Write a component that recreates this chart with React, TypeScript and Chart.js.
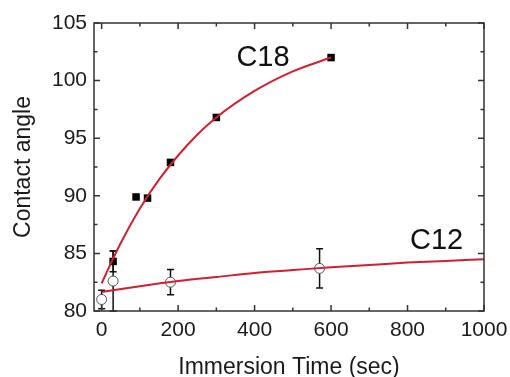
import React, { useEffect, useRef } from 'react';
import { Chart, registerables } from 'chart.js';

Chart.register(...registerables);

// ---- data ----
const c18Time = [30, 90, 120, 180, 300, 600];
const c18Angle = [84.3, 89.9, 89.8, 92.9, 96.8, 102.0];
const c18Err = [0.9, 0, 0, 0, 0, 0];

const c12Time = [0, 30, 180, 570];
const c12Angle = [81.0, 82.6, 82.5, 83.7];
const c12Err = [0.8, 2.6, 1.1, 1.7];

const c18FitTime = [0, 25, 50, 100, 150, 200, 250, 300, 400, 500, 600];
const c18FitAngle = [82.4, 84.2, 85.9, 88.9, 91.4, 93.5, 95.3, 96.8, 99.1, 100.8, 102.0];

const c12FitTime = [0, 100, 200, 300, 400, 500, 600, 700, 800, 900, 1000];
const c12FitAngle = [81.65, 82.15, 82.6, 82.95, 83.3, 83.55, 83.8, 84.0, 84.2, 84.35, 84.5];

const xTickValues = [0, 200, 400, 600, 800, 1000];
const yTickValues = [80, 85, 90, 95, 100, 105];

const seriesLabels = ['C18', 'C12'];
const labelAnchorsX = [422, 876];
const labelAnchorsY = [102.0, 86.1];

const xTitle = 'Immersion Time (sec)';
const yTitle = 'Contact angle';

const FONT = '"Liberation Sans", Arial, Helvetica, sans-serif';
const TEXT = '#1a1a1a';
const RED = '#d11f2f';

const framePlugin = {
  id: 'frameTicks',
  beforeDatasetsDraw(chart: any) {
    const { ctx, scales } = chart;
    const x = scales.x;
    const y = scales.y;
    ctx.save();
    ctx.strokeStyle = '#111';
    ctx.lineWidth = 1.5;
    const drawErr = (ts: number[], vs: number[], es: number[]) => {
      ts.forEach((t, i) => {
        const e = es[i];
        if (!e) return;
        const px = x.getPixelForValue(t);
        const lo = Math.max(vs[i] - e, y.min);
        const hi = Math.min(vs[i] + e, y.max);
        const p1 = y.getPixelForValue(lo);
        const p2 = y.getPixelForValue(hi);
        ctx.beginPath();
        ctx.moveTo(px, p1);
        ctx.lineTo(px, p2);
        ctx.moveTo(px - 3.5, p1);
        ctx.lineTo(px + 3.5, p1);
        ctx.moveTo(px - 3.5, p2);
        ctx.lineTo(px + 3.5, p2);
        ctx.stroke();
      });
    };
    drawErr(c12Time, c12Angle, c12Err);
    drawErr(c18Time, c18Angle, c18Err);
    ctx.restore();
  },
  afterDraw(chart: any) {
    const { ctx, chartArea: a, scales } = chart;
    const x = scales.x;
    const y = scales.y;
    ctx.save();
    ctx.strokeStyle = '#333';
    ctx.lineWidth = 1.5;
    ctx.strokeRect(a.left, a.top, a.right - a.left, a.bottom - a.top);
    ctx.beginPath();
    const xt = x.ticks.map((t: any) => t.value);
    for (let i = 0; i < xt.length; i++) {
      const px = x.getPixelForValue(xt[i]);
      ctx.moveTo(px, a.bottom); ctx.lineTo(px, a.bottom - 6);
      ctx.moveTo(px, a.top); ctx.lineTo(px, a.top + 6);
      if (i < xt.length - 1) {
        const mx = x.getPixelForValue((xt[i] + xt[i + 1]) / 2);
        ctx.moveTo(mx, a.bottom); ctx.lineTo(mx, a.bottom - 3.5);
        ctx.moveTo(mx, a.top); ctx.lineTo(mx, a.top + 3.5);
      }
    }
    const yt = y.ticks.map((t: any) => t.value);
    for (let i = 0; i < yt.length; i++) {
      const py = y.getPixelForValue(yt[i]);
      ctx.moveTo(a.left, py); ctx.lineTo(a.left + 6, py);
      ctx.moveTo(a.right, py); ctx.lineTo(a.right - 6, py);
      if (i < yt.length - 1) {
        const my = y.getPixelForValue((yt[i] + yt[i + 1]) / 2);
        ctx.moveTo(a.left, my); ctx.lineTo(a.left + 3.5, my);
        ctx.moveTo(a.right, my); ctx.lineTo(a.right - 3.5, my);
      }
    }
    ctx.stroke();
    ctx.fillStyle = '#111';
    ctx.font = `29px ${FONT}`;
    ctx.textAlign = 'center';
    ctx.textBaseline = 'middle';
    seriesLabels.forEach((s, i) => {
      ctx.fillText(s, x.getPixelForValue(labelAnchorsX[i]), y.getPixelForValue(labelAnchorsY[i]));
    });
    ctx.restore();
  },
};

export default function App() {
  const ref = useRef<HTMLCanvasElement>(null);
  useEffect(() => {
    document.body.style.margin = '0';
    const chart = new Chart(ref.current as HTMLCanvasElement, {
      type: 'scatter',
      data: {
        datasets: [
          {
            type: 'line',
            label: 'C18 fit',
            data: c18FitTime.map((t, i) => ({ x: t, y: c18FitAngle[i] })),
            borderColor: RED,
            borderWidth: 2,
            pointRadius: 0,
            cubicInterpolationMode: 'monotone',
            fill: false,
          },
          {
            type: 'line',
            label: 'C12 fit',
            data: c12FitTime.map((t, i) => ({ x: t, y: c12FitAngle[i] })),
            borderColor: RED,
            borderWidth: 2,
            pointRadius: 0,
            cubicInterpolationMode: 'monotone',
            fill: false,
          },
          {
            label: 'C18',
            data: c18Time.map((t, i) => ({ x: t, y: c18Angle[i] })),
            pointStyle: 'rect',
            pointRadius: 5.3,
            backgroundColor: '#000',
            borderColor: '#000',
            borderWidth: 0,
          },
          {
            label: 'C12',
            data: c12Time.map((t, i) => ({ x: t, y: c12Angle[i] })),
            pointStyle: 'circle',
            pointRadius: 5,
            backgroundColor: '#fff',
            borderColor: '#555',
            borderWidth: 1,
          },
        ],
      },
      options: {
        animation: false,
        responsive: false,
        maintainAspectRatio: false,
        layout: { padding: { top: 23, right: 26, left: 0, bottom: 0 } },
        plugins: { legend: { display: false }, tooltip: { enabled: false } },
        scales: {
          x: {
            type: 'linear',
            min: -20,
            max: 1000,
            grid: { display: false, drawTicks: false },
            border: { display: false },
            afterBuildTicks: (s: any) => { s.ticks = xTickValues.map((v) => ({ value: v })); },
            ticks: { color: TEXT, font: { family: FONT, size: 21 }, padding: 7, maxRotation: 0, autoSkip: false, callback: (v: any) => String(v) },
            title: { display: true, text: xTitle, color: TEXT, font: { family: FONT, size: 23 }, padding: { top: 0, bottom: -4 } },
            afterFit: (s: any) => { s.height = 66; s.paddingLeft = 0; s.paddingRight = 0; },
          },
          y: {
            type: 'linear',
            min: 80,
            max: 105,
            grid: { display: false, drawTicks: false },
            border: { display: false },
            afterBuildTicks: (s: any) => { s.ticks = yTickValues.map((v) => ({ value: v })); },
            ticks: { color: TEXT, font: { family: FONT, size: 21 }, padding: 7, autoSkip: false, callback: (v: any) => String(v) },
            title: { display: true, text: yTitle, color: TEXT, font: { family: FONT, size: 23 }, padding: { top: 10, bottom: 0 } },
            afterFit: (s: any) => { s.width = 94; s.paddingTop = 0; s.paddingBottom = 0; },
          },
        },
      },
      plugins: [framePlugin],
    } as any);
    return () => chart.destroy();
  }, []);
  return (
    <div style={{ position: 'absolute', left: 0, top: 0, width: 510, height: 377, background: '#fff' }}>
      <canvas ref={ref} width={510} height={377} />
    </div>
  );
}
